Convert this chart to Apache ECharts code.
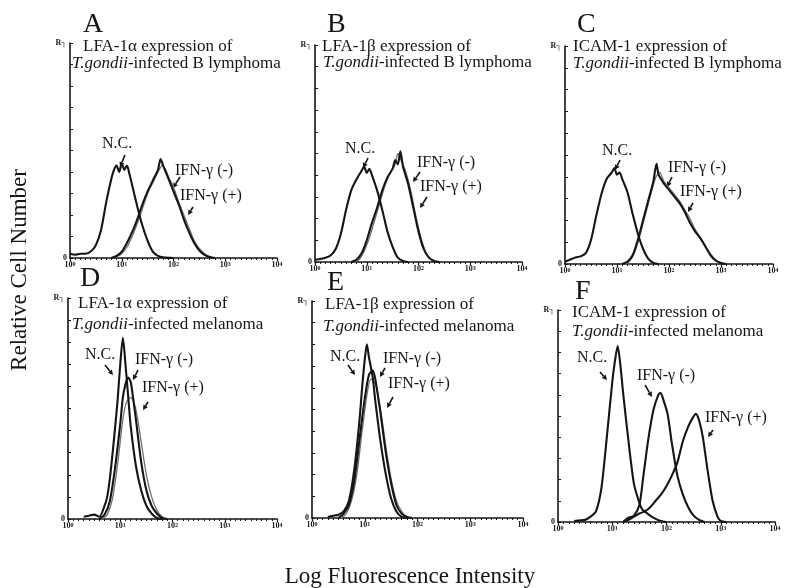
<!DOCTYPE html>
<html>
<head>
<meta charset="utf-8">
<script src="https://cdn.jsdelivr.net/npm/echarts@6.0.0/dist/echarts.min.js"></script>
<style>html,body{margin:0;padding:0;background:#fff}#main{width:788px;height:588px}</style>
</head>
<body>
<div id="main"></div>
<script>
// x values are log10 of fluorescence (0 = 10^0 ... 4 = 10^4), y = relative cell number
var tickExp = ['0', '1', '2', '3', '4'];

var ncA  = [[0,0.2],[0.1,0.15],[0.2,0.2],[0.3,0.2],[0.4,0.3],[0.5,0.6],[0.6,1.3],[0.7,2.6],[0.8,3.7],[0.85,4.1],[0.9,4.3],[0.95,4.0],[1.0,4.4],[1.05,4.1],[1.1,4.3],[1.15,3.9],[1.2,3.4],[1.3,2.4],[1.4,1.5],[1.5,0.8],[1.6,0.3],[1.7,0.1],[1.8,0.03],[2.0,0]];
var negA = [[0.8,0],[0.9,0.1],[1.0,0.3],[1.1,0.7],[1.2,1.2],[1.3,1.8],[1.4,2.5],[1.5,3.1],[1.6,3.6],[1.7,4.1],[1.75,4.6],[1.8,4.3],[1.85,4.0],[1.9,3.7],[2.0,3.1],[2.1,2.5],[2.2,1.8],[2.3,1.2],[2.4,0.7],[2.5,0.35],[2.6,0.15],[2.7,0.05],[2.8,0]];
var posA = [[0.9,0.05],[1.0,0.2],[1.1,0.5],[1.2,1.0],[1.3,1.6],[1.4,2.3],[1.5,3.0],[1.6,3.5],[1.7,4.0],[1.78,4.3],[1.85,4.1],[1.9,3.8],[2.0,3.3],[2.1,2.6],[2.2,2.0],[2.3,1.4],[2.4,0.8],[2.5,0.45],[2.6,0.2],[2.7,0.05],[2.8,0]];

var ncB  = [[0,0.1],[0.2,0.2],[0.3,0.3],[0.4,0.6],[0.5,1.3],[0.6,2.4],[0.7,3.3],[0.8,3.8],[0.9,4.2],[0.95,4.4],[1.0,4.1],[1.05,4.3],[1.1,4.0],[1.2,3.3],[1.3,2.4],[1.4,1.4],[1.5,0.7],[1.6,0.2],[1.7,0.05],[1.8,0]];
var negB = [[0.7,0],[0.8,0.1],[0.9,0.4],[1.0,1.0],[1.1,1.8],[1.2,2.5],[1.3,3.3],[1.4,3.9],[1.5,4.3],[1.55,4.7],[1.6,4.5],[1.65,5.1],[1.7,4.4],[1.8,3.6],[1.9,2.5],[2.0,1.4],[2.1,0.6],[2.2,0.2],[2.3,0.05],[2.4,0]];
var posB = [[0.75,0],[0.85,0.1],[0.95,0.5],[1.05,1.1],[1.15,1.9],[1.25,2.7],[1.35,3.5],[1.45,4.1],[1.55,4.5],[1.6,5.0],[1.68,4.6],[1.75,4.2],[1.85,3.3],[1.95,2.1],[2.05,1.1],[2.15,0.4],[2.25,0.1],[2.35,0]];

var ncC  = [[0,0.1],[0.2,0.3],[0.3,0.35],[0.4,0.5],[0.5,1.1],[0.6,2.2],[0.7,3.2],[0.8,3.9],[0.9,4.2],[0.95,4.4],[1.0,4.1],[1.05,4.2],[1.1,3.9],[1.2,3.3],[1.3,2.3],[1.4,1.4],[1.5,0.7],[1.6,0.25],[1.7,0.05],[1.8,0]];
var negC = [[1.1,0],[1.2,0.1],[1.3,0.4],[1.4,1.1],[1.5,2.0],[1.6,2.9],[1.7,3.8],[1.76,4.6],[1.8,4.1],[1.9,3.7],[2.0,3.4],[2.1,3.1],[2.2,2.8],[2.3,2.4],[2.4,1.9],[2.5,1.5],[2.6,1.2],[2.7,0.8],[2.8,0.4],[2.9,0.15],[3.0,0.05],[3.1,0]];
var posC = [[1.15,0],[1.25,0.15],[1.35,0.6],[1.45,1.4],[1.55,2.3],[1.65,3.2],[1.75,4.0],[1.82,4.2],[1.9,3.8],[2.0,3.5],[2.1,3.2],[2.2,2.9],[2.3,2.5],[2.4,2.1],[2.5,1.6],[2.6,1.2],[2.7,0.8],[2.8,0.45],[2.9,0.2],[3.0,0.05],[3.1,0]];

var ncD  = [[0.3,0.1],[0.4,0.15],[0.5,0.2],[0.6,0.1],[0.7,0.6],[0.75,1.0],[0.8,1.8],[0.85,2.9],[0.9,4.1],[0.95,5.4],[1.0,7.0],[1.05,8.2],[1.1,7.0],[1.15,5.6],[1.2,4.2],[1.3,2.4],[1.4,1.3],[1.5,0.6],[1.6,0.25],[1.7,0.05],[1.8,0]];
var negD = [[0.6,0],[0.7,0.2],[0.8,0.8],[0.9,2.3],[1.0,4.3],[1.05,5.5],[1.1,6.1],[1.15,6.4],[1.2,6.2],[1.25,5.4],[1.3,4.5],[1.4,2.6],[1.5,1.3],[1.6,0.6],[1.7,0.25],[1.8,0.05],[1.9,0]];
var posD = [[0.65,0],[0.75,0.2],[0.85,0.9],[0.95,2.5],[1.05,4.5],[1.12,5.3],[1.2,5.5],[1.27,5.2],[1.32,4.7],[1.4,3.5],[1.5,2.0],[1.6,1.0],[1.7,0.4],[1.8,0.1],[1.9,0]];

var ncE  = [[0.3,0.05],[0.4,0.1],[0.5,0.15],[0.6,0.3],[0.7,0.8],[0.8,2.2],[0.9,4.5],[0.95,6.0],[1.0,7.3],[1.04,8.0],[1.08,7.4],[1.15,6.5],[1.2,5.4],[1.3,3.5],[1.4,2.0],[1.5,0.9],[1.6,0.3],[1.7,0.05],[1.8,0]];
var negE = [[0.5,0],[0.6,0.2],[0.7,0.6],[0.8,1.7],[0.9,3.6],[1.0,5.5],[1.08,6.6],[1.15,6.8],[1.2,6.4],[1.3,4.8],[1.4,3.0],[1.5,1.6],[1.6,0.6],[1.7,0.2],[1.8,0.05],[1.9,0]];
var posE = [[0.55,0],[0.65,0.2],[0.75,0.8],[0.85,2.0],[0.95,4.0],[1.05,5.8],[1.12,6.4],[1.2,6.2],[1.3,5.0],[1.4,3.3],[1.5,1.8],[1.6,0.8],[1.7,0.3],[1.8,0.05],[1.9,0]];

var ncF  = [[0.3,0.05],[0.5,0.1],[0.6,0.25],[0.7,0.5],[0.8,1.6],[0.9,4.0],[1.0,6.6],[1.05,7.6],[1.1,8.3],[1.15,7.4],[1.2,6.1],[1.3,3.8],[1.4,1.8],[1.5,0.9],[1.55,0.6],[1.6,0.5],[1.7,0.3],[1.8,0.15],[1.9,0.05],[2.0,0]];
var negF = [[1.2,0],[1.3,0.2],[1.4,0.3],[1.5,0.8],[1.57,2.1],[1.67,4.0],[1.76,5.3],[1.85,6.0],[1.89,6.1],[1.95,5.7],[2.02,5.1],[2.1,3.7],[2.2,2.2],[2.3,1.3],[2.4,0.7],[2.5,0.3],[2.6,0.1],[2.7,0]];
var posF = [[1.2,0],[1.3,0.1],[1.4,0.25],[1.5,0.4],[1.6,0.5],[1.7,0.7],[1.8,1.0],[1.9,1.3],[2.0,1.7],[2.1,2.2],[2.2,2.8],[2.3,3.8],[2.4,4.5],[2.48,4.9],[2.54,5.1],[2.6,4.8],[2.67,4.0],[2.76,2.4],[2.85,1.0],[2.94,0.25],[3.0,0.05],[3.1,0]];

var letters = ['A', 'B', 'C', 'D', 'E', 'F'];
var titles1 = ['LFA-1\u03b1 expression of', 'LFA-1\u03b2 expression of', 'ICAM-1 expression of',
               'LFA-1\u03b1 expression of', 'LFA-1\u03b2 expression of', 'ICAM-1 expression of'];
var titles2 = ['{i|T.gondii}-infected B lymphoma', '{i|T.gondii}-infected B lymphoma', '{i|T.gondii}-infected B lymphoma',
               '{i|T.gondii}-infected melanoma', '{i|T.gondii}-infected melanoma', '{i|T.gondii}-infected melanoma'];
var curveNames = ['N.C.', 'IFN-\u03b3 (-)', 'IFN-\u03b3 (+)'];

// layout of each panel (pixels)
var panels = [
  {grid: {left: 70, top: 43, width: 207, height: 215}, data: [ncA, negA, posA], gray: true,
   letter: [83, 25], t1: [83, 47], t2: [72, 64],
   lab: [[102, 144], [175, 171], [180, 196]], arr: [[125,155,120,167], [180,177,173,188], [193,207,188,215]]},
  {grid: {left: 315, top: 45, width: 207, height: 217}, data: [ncB, negB, posB], gray: true,
   letter: [327, 25], t1: [322, 47], t2: [323, 63],
   lab: [[345, 149], [417, 163], [420, 187]], arr: [[368,158,363,168], [420,172,413,182], [427,197,420,208]]},
  {grid: {left: 565, top: 46, width: 208, height: 218}, data: [ncC, negC, posC], gray: true,
   letter: [577, 25], t1: [573, 47], t2: [573, 64],
   lab: [[602, 151], [668, 168], [680, 192]], arr: [[620,160,615,170], [672,177,667,187], [693,203,688,212]]},
  {grid: {left: 68, top: 298, width: 209, height: 221}, data: [ncD, negD, posD], gray: true,
   letter: [80, 279], t1: [78, 304], t2: [72, 325],
   lab: [[85, 355], [135, 360], [142, 388]], arr: [[105,365,113,375], [138,370,133,380], [148,402,143,410]]},
  {grid: {left: 312, top: 301, width: 211, height: 217}, data: [ncE, negE, posE], gray: true,
   letter: [327, 283], t1: [325, 305], t2: [323, 327],
   lab: [[330, 357], [383, 359], [388, 384]], arr: [[348,365,355,375], [385,368,380,377], [393,397,387,408]]},
  {grid: {left: 558, top: 310, width: 217, height: 212}, data: [ncF, negF, posF], gray: false,
   letter: [575, 292], t1: [572, 313], t2: [572, 332],
   lab: [[577, 358], [637, 376], [705, 418]], arr: [[600,372,607,380], [645,385,652,397], [713,430,708,437]]}
];

var SERIF = '"Liberation Serif", "DejaVu Serif", serif';
var INK = '#151515';

function txt(x, y, text, size, opts) {
  opts = opts || {};
  return {
    type: 'text', x: x, y: y, rotation: opts.rotation || 0, silent: true,
    style: {
      text: text, fill: INK, fontFamily: SERIF, fontSize: size,
      textAlign: opts.align || 'left', textVerticalAlign: 'middle',
      align: opts.align || 'left', verticalAlign: 'middle',
      rich: {i: {fontStyle: 'italic', fontFamily: SERIF, fontSize: size, fill: INK}}
    }
  };
}

function arrow(x1, y1, x2, y2) {
  var a = Math.atan2(y2 - y1, x2 - x1), L = 5, W = 2.6;
  var bx = x2 - L * Math.cos(a), by = y2 - L * Math.sin(a);
  return [
    {type: 'line', silent: true, shape: {x1: x1, y1: y1, x2: bx, y2: by}, style: {stroke: INK, lineWidth: 1.6}},
    {type: 'polygon', silent: true, shape: {points: [[x2, y2], [bx + W * Math.sin(a), by - W * Math.cos(a)], [bx - W * Math.sin(a), by + W * Math.cos(a)]]}, style: {fill: INK}}
  ];
}

var grids = [], xAxes = [], yAxes = [], series = [], graphics = [];

panels.forEach(function (p, i) {
  grids.push(p.grid);
  xAxes.push({
    type: 'value', gridIndex: i, min: 0, max: 4, interval: 1,
    axisLine: {lineStyle: {color: INK, width: 1.6}},
    axisTick: {show: true, length: 3, lineStyle: {color: INK, width: 1.2}},
    minorTick: {show: true, splitNumber: 10, length: 2, lineStyle: {color: INK}},
    splitLine: {show: false},
    axisLabel: {
      margin: 3, color: INK,
      formatter: function (v) { return '{b|10}{s|' + tickExp[v] + '}'; },
      rich: {
        b: {fontSize: 8, fontWeight: 'bold', fontFamily: SERIF, color: INK},
        s: {fontSize: 6, fontWeight: 'bold', fontFamily: SERIF, color: INK, verticalAlign: 'top'}
      }
    }
  });
  yAxes.push({
    type: 'value', gridIndex: i, min: 0, max: 10, interval: 1,
    axisLine: {show: true, lineStyle: {color: INK, width: 1.6}},
    axisTick: {show: true, inside: true, length: 3, lineStyle: {color: INK}},
    splitLine: {show: false},
    axisLabel: {
      margin: 3, fontSize: 8, fontWeight: 'bold', fontFamily: SERIF, color: INK,
      formatter: function (v) { return v === 0 ? '0' : (v === 10 ? 'R\u2510' : ''); }
    }
  });
  // draw (+) first, then (-), then N.C. on top
  [2, 1, 0].forEach(function (k) {
    var thin = (k === 2 && p.gray);
    series.push({
      type: 'line', name: curveNames[k], xAxisIndex: i, yAxisIndex: i,
      data: p.data[k], showSymbol: false, smooth: 0.25, silent: true,
      lineStyle: {color: thin ? '#707070' : INK, width: thin ? 1.3 : 2.1}
    });
  });

  graphics.push(txt(p.letter[0], p.letter[1], letters[i], 28));
  graphics.push(txt(p.t1[0], p.t1[1], titles1[i], 17));
  graphics.push(txt(p.t2[0], p.t2[1], titles2[i], 17));
  for (var k = 0; k < 3; k++) {
    graphics.push(txt(p.lab[k][0], p.lab[k][1], curveNames[k], 16));
    var a = p.arr[k];
    graphics = graphics.concat(arrow(a[0], a[1], a[2], a[3]));
  }
});

graphics.push(txt(20, 270, 'Relative Cell Number', 23, {align: 'center', rotation: Math.PI / 2}));
graphics.push(txt(410, 577, 'Log Fluorescence Intensity', 23, {align: 'center'}));

var myChart = echarts.init(document.getElementById('main'));
myChart.setOption({
  backgroundColor: '#fff',
  animation: false,
  grid: grids,
  xAxis: xAxes,
  yAxis: yAxes,
  series: series,
  graphic: graphics
});
</script>
</body>
</html>
